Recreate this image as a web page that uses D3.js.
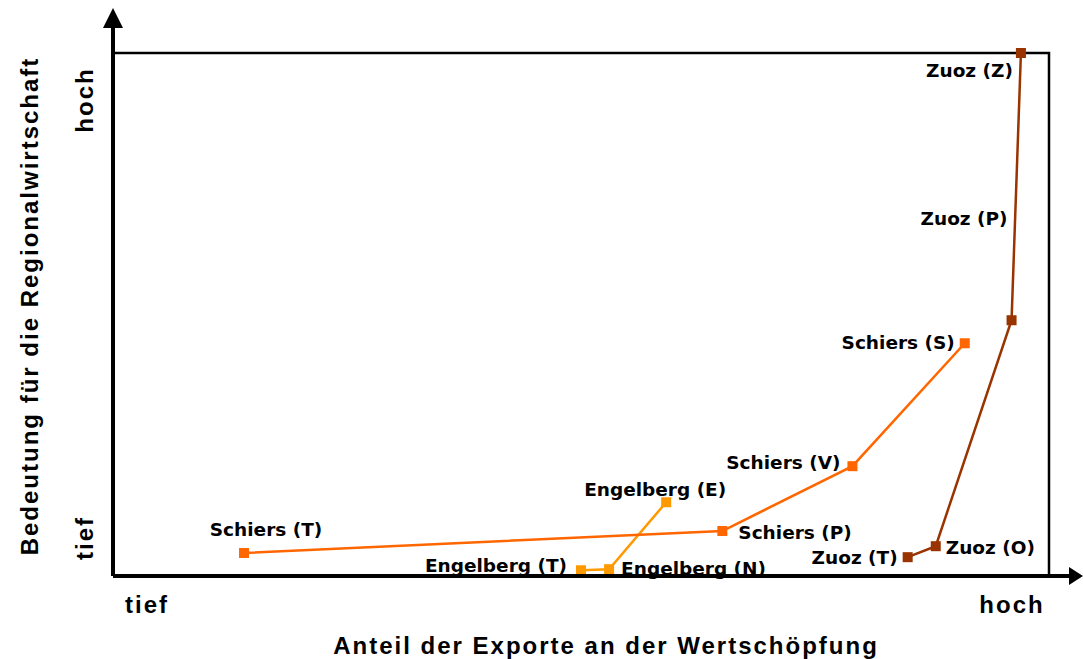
<!DOCTYPE html>
<html>
<head>
<meta charset="utf-8">
<script src="https://cdn.jsdelivr.net/npm/d3@7"></script>
<style>
  body { margin: 0; background: #fff; }
  svg { display: block; }
</style>
</head>
<body>
<div id="chart"></div>
<script>
// values, both axes on a 0..100 scale (tief .. hoch)
const engelbergNames = ["Engelberg (T)", "Engelberg (N)", "Engelberg (E)"];
const engelbergX = [50.0, 53.0, 59.1];
const engelbergY = [1.1, 1.3, 14.1];

const schiersNames = ["Schiers (T)", "Schiers (P)", "Schiers (V)", "Schiers (S)"];
const schiersX = [14.0, 65.1, 79.0, 91.0];
const schiersY = [4.4, 8.6, 21.0, 44.5];

const zuozNames = ["Zuoz (T)", "Zuoz (O)", "Zuoz (P)", "Zuoz (Z)"];
const zuozX = [84.9, 87.9, 96.0, 97.0];
const zuozY = [3.6, 5.7, 48.9, 100];

const axisTickLabels = ["tief", "hoch"];
const xTitle = "Anteil der Exporte an der Wertschöpfung";
const yTitle = "Bedeutung für die Regionalwirtschaft";

const W = 1083, H = 659;
const margin = {left: 113, right: 34, top: 53, bottom: 83};
const width = W - margin.left - margin.right,
      height = H - margin.top - margin.bottom;

const svg = d3.select("#chart").append("svg")
    .attr("width", W)
    .attr("height", H);

const g = svg.append("g")
    .attr("transform", "translate(" + margin.left + "," + margin.top + ")");

// scales
const x = d3.scaleLinear().domain([0, 100]).range([0, width]);
const y = d3.scaleLinear().domain([0, 100]).range([height, 0]);

// frame (top and right sides)
g.append("path")
    .attr("d", "M0,0H" + width + "V" + height)
    .attr("fill", "none")
    .attr("stroke", "#000")
    .attr("stroke-width", 2.5);

// label placement: [anchor, dx, dy]
const labelPos = {
  "Engelberg (T)": ["end", -14, -5],
  "Engelberg (N)": ["start", 12, -1],
  "Engelberg (E)": ["middle", -11, -13],
  "Schiers (T)": ["middle", 22, -23],
  "Schiers (P)": ["start", 16, 2],
  "Schiers (V)": ["end", -12, -4],
  "Schiers (S)": ["end", -10, -1],
  "Zuoz (T)": ["end", -10, 0],
  "Zuoz (O)": ["start", 10, 1],
  "Zuoz (P)": ["end", -4, -102],
  "Zuoz (Z)": ["end", -8, 18]
};

const series = [
  {names: engelbergNames, xs: engelbergX, ys: engelbergY, color: "#ff9900"},
  {names: schiersNames, xs: schiersX, ys: schiersY, color: "#ff6600"},
  {names: zuozNames, xs: zuozX, ys: zuozY, color: "#993300"}
];

const line = d3.line().x(d => x(d.x)).y(d => y(d.y));

series.forEach(s => {
  const pts = s.names.map((n, i) => ({name: n, x: s.xs[i], y: s.ys[i]}));

  g.append("path")
      .datum(pts)
      .attr("d", line)
      .attr("fill", "none")
      .attr("stroke", s.color)
      .attr("stroke-width", 2.5);

  g.selectAll(null)
      .data(pts)
      .enter()
      .append("rect")
      .attr("x", d => x(d.x) - 5)
      .attr("y", d => y(d.y) - 5)
      .attr("width", 10)
      .attr("height", 10)
      .attr("fill", s.color);

  g.selectAll(null)
      .data(pts)
      .enter()
      .append("text")
      .text(d => d.name)
      .attr("x", d => x(d.x) + labelPos[d.name][1])
      .attr("y", d => y(d.y) + labelPos[d.name][2])
      .attr("dy", "0.35em")
      .attr("text-anchor", d => labelPos[d.name][0])
      .style("font-family", "'DejaVu Sans', Verdana, sans-serif")
      .style("font-weight", "bold")
      .style("font-size", "18.5px")
      .attr("fill", "#000");
});

// axes with arrows
const xAxis = d3.axisBottom(x).tickValues([]).tickSize(0);
const yAxis = d3.axisLeft(y).tickValues([]).tickSize(0);

svg.append("g")
    .attr("transform", "translate(" + margin.left + "," + (margin.top + height) + ")")
    .call(xAxis)
    .call(a => a.select(".domain").attr("d", "M0,0H" + (W - margin.left - 10)).attr("stroke-width", 4));

svg.append("g")
    .attr("transform", "translate(" + margin.left + ",0)")
    .call(yAxis)
    .call(a => a.select(".domain").attr("d", "M0," + (margin.top + height) + "V20").attr("stroke-width", 4));

svg.append("path")
    .attr("d", "M" + (W - 14) + "," + (margin.top + height - 9) + "L" + W + "," + (margin.top + height) + "L" + (W - 14) + "," + (margin.top + height + 9) + "Z")
    .attr("fill", "#000");
svg.append("path")
    .attr("d", "M" + (margin.left - 10) + ",28L" + margin.left + ",8L" + (margin.left + 10) + ",28Z")
    .attr("fill", "#000");

// end labels tief / hoch
const axisFont = "'Liberation Sans', Arial, sans-serif";
const axisText = sel => sel
    .attr("dy", "0.35em")
    .attr("text-anchor", "middle")
    .style("font-family", axisFont)
    .style("font-weight", "bold")
    .style("font-size", "24px")
    .style("letter-spacing", "2px");

svg.selectAll(".xend")
    .data(axisTickLabels)
    .enter()
    .append("text")
    .attr("class", "xend")
    .text(d => d)
    .attr("x", (d, i) => margin.left + (i === 0 ? 34 : width - 37))
    .attr("y", margin.top + height + 29)
    .call(axisText);

svg.selectAll(".yend")
    .data(axisTickLabels)
    .enter()
    .append("text")
    .attr("class", "yend")
    .text(d => d)
    .attr("transform", (d, i) => "translate(85," + (i === 0 ? margin.top + height - 38 : margin.top + 47) + ") rotate(-90)")
    .call(axisText);

// axis titles
svg.append("text")
    .text(xTitle)
    .attr("x", 606)
    .attr("y", 646)
    .call(axisText);

svg.append("text")
    .text(yTitle)
    .attr("transform", "translate(30,306) rotate(-90)")
    .call(axisText);
</script>
</body>
</html>
